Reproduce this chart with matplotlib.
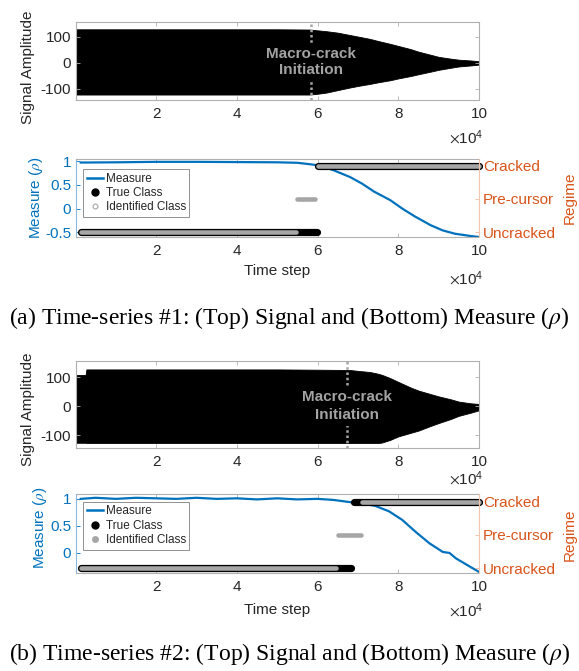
import numpy as np
import matplotlib
matplotlib.use("Agg")
import matplotlib.pyplot as plt
from matplotlib.lines import Line2D

plt.rcParams['font.family'] = ['Liberation Sans', 'DejaVu Sans']
plt.rcParams['axes.unicode_minus'] = False
plt.rcParams['mathtext.fontset'] = 'stix'

SCALE = 1e4  # x values below are in units of 10^4 time steps

# ---------------- Time-series #1 ----------------
sig1_x = [0, 1, 2, 3, 4, 5, 5.8, 6.0, 6.2, 6.5, 6.8, 7.0, 7.3, 7.5, 7.8, 8.0,
          8.3, 8.5, 8.8, 9.0, 9.3, 9.5, 9.8, 10.0]
sig1_up = [128, 128, 128, 128, 128, 128, 127, 124, 121, 115, 106, 100, 91, 83,
           72, 64, 52, 42, 30, 22, 15, 11, 8, 5]
sig1_lo = [-123, -123, -123, -123, -123, -123, -123, -120, -116, -106, -96, -90,
           -82, -76, -68, -61, -52, -45, -35, -28, -20, -15, -11, -8]
crack1 = 5.84

meas1_x = [0.13, 1, 2, 3, 4, 5, 5.5, 5.9, 6.2, 6.4, 6.8, 7.1, 7.4, 7.8, 8.1,
           8.4, 8.8, 9.1, 9.4, 9.8, 10.0]
meas1 = [0.975, 0.98, 0.99, 0.99, 0.985, 0.98, 0.97, 0.93, 0.87, 0.81, 0.67,
         0.53, 0.36, 0.18, 0.0, -0.16, -0.35, -0.46, -0.53, -0.58, -0.60]

true1_start = [0.13, 6.0]
true1_end = [5.98, 10.0]
true1_cls = [1, 3]
id1_start = [0.13, 5.50, 6.0]
id1_end = [5.46, 5.93, 10.0]
id1_cls = [1, 2, 3]

# ---------------- Time-series #2 ----------------
sig2_x = [0, 0.25, 0.27, 1, 2, 3, 4, 5, 6, 6.8, 7.0, 7.3, 7.5, 7.6, 7.8, 8.0,
          8.3, 8.5, 8.8, 9.0, 9.3, 9.5, 9.8, 10.0]
sig2_up = [108, 108, 127, 127, 127, 127, 127, 127, 126, 125, 122, 118, 112, 108,
           97, 84, 65, 54, 42, 34, 24, 16, 10, 8]
sig2_lo = [-126, -126, -127, -127, -127, -127, -127, -127, -127, -127, -127,
           -127, -127, -125, -116, -104, -92, -84, -68, -58, -44, -33, -22, -14]
crack2 = 6.74

meas2_x = [0.13, 0.5, 1, 1.5, 2, 2.5, 3, 3.5, 4, 4.5, 5, 5.5, 6, 6.4, 6.8,
           7.1, 7.43, 7.77, 8.1, 8.43, 8.77, 9.1, 9.27, 9.43, 9.77, 10.0]
meas2 = [1.0, 1.02, 1.0, 1.02, 1.01, 1.0, 1.02, 1.0, 1.01, 0.99, 1.01, 0.99,
         1.0, 0.98, 0.94, 0.92, 0.87, 0.77, 0.61, 0.39, 0.18, 0.02, 0.0, -0.10,
         -0.25, -0.35]

true2_start = [0.13, 6.90]
true2_end = [6.82, 10.0]
true2_cls = [1, 3]
id2_start = [0.13, 6.50, 7.10]
id2_end = [6.46, 7.07, 10.0]
id2_cls = [1, 2, 3]

xtick_vals = [2, 4, 6, 8, 10]
xtick_labels = ['2', '4', '6', '8', '10']
regime_vals = [1, 2, 3]
regime_labels = ['Uncracked', 'Pre-cursor', 'Cracked']

# ---------------- styling ----------------
BLUE = '#0072BD'
ORANGE = '#D95319'
TXT = '#262626'
BOX = '#b0b0b0'
IDGRAY = '#a6a6a6'
FS = 11

W, H = 579, 671
fig = plt.figure(figsize=(W / 100, H / 100), dpi=100)


def rect(l, t, r, b):
    return [l / W, 1 - b / H, (r - l) / W, (b - t) / H]


def style_x(ax):
    ax.set_xlim(0, 10 * SCALE)
    ax.set_xticks([v * SCALE for v in xtick_vals])
    ax.set_xticklabels(xtick_labels)
    ax.tick_params(axis='x', direction='in', length=3, width=0.6, color=BOX,
                   labelcolor=TXT, labelsize=FS, top=True, pad=5)


def mult_text(ax, y):
    ax.text(1.01, y, r'$\times\mathregular{10^{4}}$', transform=ax.transAxes,
            ha='right', va='center', fontsize=FS, color=TXT)


def center_label(lab):
    lab.set_va('center')
    lab.set_ha('center')


def signal_panel(ax, x, up, lo, crack, lsp, ylab_y, mult_y):
    xs = np.asarray(x) * SCALE
    ax.fill_between(xs, lo, up, color='black', lw=0.6)
    style_x(ax)
    ax.set_ylim(-144, 156)
    ax.set_yticks([-100, 0, 100])
    ax.tick_params(axis='y', direction='in', length=3, width=0.6, color=BOX,
                   labelcolor=TXT, labelsize=FS, right=True, pad=3)
    for s in ax.spines.values():
        s.set_color(BOX)
        s.set_linewidth(0.8)
    ax.axvline(crack * SCALE, color=IDGRAY, ls=(0, (1, 1.1)), lw=1.8)
    ax.text(crack * SCALE, 2, 'Macro-crack\nInitiation', ha='center',
            va='center', fontsize=FS, fontweight='bold', color='#a3a3a3',
            linespacing=lsp, bbox=dict(fc='black', ec='none', pad=3))
    ax.set_ylabel('Signal Amplitude', fontsize=FS, color=TXT)
    center_label(ax.yaxis.label)
    ax.yaxis.set_label_coords(-0.118, ylab_y)
    mult_text(ax, mult_y)


def measure_panel(ax, mx, m, ylim, yticks, ytl, ts, te, tc, is_, ie, ic,
                  rlim, hollow, leg_top, ylab, rlab, xlab_y, mult_y):
    ax.plot(np.asarray(mx) * SCALE, m, color=BLUE, lw=1.6)
    style_x(ax)
    ax.set_ylim(*ylim)
    ax.set_yticks(yticks)
    ax.set_yticklabels(ytl)
    ax.tick_params(axis='y', direction='in', length=3, width=0.6, color=BLUE,
                   labelcolor=BLUE, labelsize=FS, pad=3)
    for k in ('top', 'bottom'):
        ax.spines[k].set_color(BOX)
        ax.spines[k].set_linewidth(0.8)
    ax.spines['left'].set_color('#8ab8de')
    ax.spines['left'].set_linewidth(0.8)
    ax.spines['right'].set_visible(False)
    ax.set_ylabel(r'Measure ($\rho$)', fontsize=FS, color=BLUE)
    center_label(ax.yaxis.label)
    ax.yaxis.set_label_coords(ylab[0], ylab[1])
    ax.set_xlabel('Time step', fontsize=FS, color=TXT)
    center_label(ax.xaxis.label)
    ax.xaxis.set_label_coords(0.5, xlab_y)
    mult_text(ax, mult_y)

    ax2 = ax.twinx()
    ax2.set_ylim(*rlim)
    for s, e, c in zip(ts, te, tc):
        ax2.plot([s * SCALE, e * SCALE], [c, c], color='black', lw=5.2,
                 solid_capstyle='round', clip_on=False)
    for s, e, c in zip(is_, ie, ic):
        ax2.plot([s * SCALE, e * SCALE], [c, c], color=IDGRAY, lw=3.3,
                 solid_capstyle='round', clip_on=False)
    ax2.set_yticks(regime_vals)
    ax2.set_yticklabels(regime_labels)
    ax2.tick_params(axis='y', direction='in', length=3, width=0.6,
                    color='#f0b8a0', labelcolor=ORANGE, labelsize=FS, pad=3)
    for k in ('left', 'top', 'bottom'):
        ax2.spines[k].set_visible(False)
    ax2.spines['right'].set_color('#f3c4ae')
    ax2.spines['right'].set_linewidth(0.8)
    ax2.set_ylabel('Regime', fontsize=FS, color=ORANGE, rotation=90)
    center_label(ax2.yaxis.label)
    ax2.yaxis.set_label_coords(rlab[0], rlab[1])

    if hollow:
        idh = Line2D([], [], ls='none', marker='o', ms=3.5, mfc='white',
                     mec=IDGRAY, mew=0.8)
    else:
        idh = Line2D([], [], ls='none', marker='o', ms=4, mfc=IDGRAY,
                     mec=IDGRAY)
    handles = [Line2D([], [], color=BLUE, lw=1.8),
               Line2D([], [], ls='none', marker='o', ms=5, mfc='black',
                      mec='black'),
               idh]
    leg = ax2.legend(handles, ['Measure', 'True Class', 'Identified Class'],
                     loc='upper left', bbox_to_anchor=(0.019, leg_top),
                     borderaxespad=0, fontsize=8.5, frameon=True,
                     fancybox=False, framealpha=1, edgecolor='#7f7f7f',
                     borderpad=0.3, labelspacing=0.2, handlelength=1.4,
                     handletextpad=0.2)
    leg.get_frame().set_linewidth(0.6)
    for t in leg.get_texts():
        t.set_color(TXT)


# Panel positions (pixels)
ax1 = fig.add_axes(rect(75.5, 22, 479, 100))
ax2 = fig.add_axes(rect(75.5, 159, 479, 237))
ax3 = fig.add_axes(rect(75.5, 361, 479, 448))
ax4 = fig.add_axes(rect(75.5, 494, 479, 573))

signal_panel(ax1, sig1_x, sig1_up, sig1_lo, crack1, 1.25, 0.42, -0.49)
measure_panel(ax2, meas1_x, meas1, (-0.6, 1.05), [-0.5, 0, 0.5, 1],
              ['-0.5', '0', '0.5', '1'], true1_start, true1_end, true1_cls,
              id1_start, id1_end, id1_cls, (0.85, 3.2), True, 0.87,
              (-0.098, 0.5), (1.2255, 0.5), -0.43, -0.53)
signal_panel(ax3, sig2_x, sig2_up, sig2_lo, crack2, 1.35, 0.44, -0.35)
measure_panel(ax4, meas2_x, meas2, (-0.37, 1.09), [0, 0.5, 1],
              ['0', '0.5', '1'], true2_start, true2_end, true2_cls,
              id2_start, id2_end, id2_cls, (0.85, 3.24), False, 0.90,
              (-0.088, 0.57), (1.2255, 0.48), -0.47, -0.48)

cap_font = dict(family=['Liberation Serif', 'DejaVu Serif'], fontsize=17,
                color='black', ha='center', va='center')
fig.text(0.5, 1 - 318 / H,
         r'(a) Time-series #1: (Top) Signal and (Bottom) Measure ($\rho$)',
         **cap_font)
fig.text(0.5, 1 - 654 / H,
         r'(b) Time-series #2: (Top) Signal and (Bottom) Measure ($\rho$)',
         **cap_font)

fig.savefig('out.png', dpi=100)
